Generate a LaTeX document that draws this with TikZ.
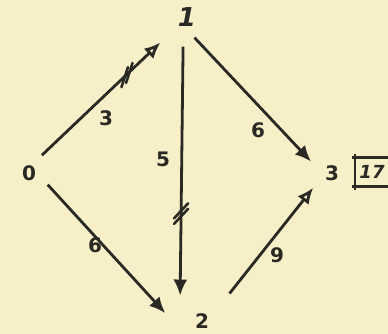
\documentclass[tikz,border=0pt]{standalone}
\usepackage{fontspec}
\setmainfont{DejaVu Sans}
\usetikzlibrary{arrows.meta,calc}
\definecolor{Paper}{HTML}{F7EFC8}
\definecolor{Pencil}{HTML}{2A2924}
\tikzset{
  eventnode/.style={circle,minimum size=44pt,inner sep=0pt,outer sep=0pt,font=\fontsize{20}{20}\selectfont\bfseries,text=Pencil},
  wideevent/.style={eventnode,minimum size=60pt},
  activity/.style={line width=2.8pt,draw=Pencil,-{Latex[length=16pt,width=14pt]}},
  critactivity/.style={line width=2.8pt,draw=Pencil,-{Latex[open,fill=Paper,length=16pt,width=14pt]}},
  durlabel/.style={font=\fontsize{20}{20}\selectfont\bfseries,text=Pencil,inner sep=1pt},
  crossmark/.style={line width=2.6pt,draw=Pencil,line cap=round},
  totalbox/.style={minimum width=34pt,minimum height=29pt,inner sep=0pt,font=\fontsize{18}{18}\selectfont\bfseries\itshape,text=Pencil},
  boxline/.style={line width=2.6pt,draw=Pencil}
}

\begin{document}
\begin{tikzpicture}[x=1pt,y=-1pt]
  \fill[Paper] (0,0) rectangle (388,334);
  \useasboundingbox (0,0) rectangle (388,334);

  % events
  \node[eventnode] (n0) at (29,173) {0};
  \node[eventnode,font=\fontsize{26}{26}\selectfont\bfseries\itshape] (n1) at (187,17) {1};
  \node[wideevent] (n2) at (202,321) {2};
  \node[eventnode] (n3) at (332,173) {3};
  \node[totalbox] (total) at (372,172) {17};
  \draw[boxline] ([xshift=-3pt]total.north west) -- (total.north east);
  \draw[boxline] ([xshift=-3pt]total.south west) -- (total.south east);
  \draw[boxline] ([yshift=3pt]total.north west) -- ([yshift=-3pt]total.south west);

  % activities
  \draw[critactivity,shorten >=15pt] (n0.54) -- coordinate[pos=0.66] (t01) (n1.-136);
  \draw[activity,shorten >=10pt] (n0.-32) -- (n2.179);
  \draw[activity,shorten <=8pt,shorten >=5pt] (n1.-100) -- coordinate[pos=0.667] (t12) (n2.137);
  \draw[activity,shorten >=2pt] (n1.-70) -- (n3.153);
  \draw[critactivity,shorten <=9pt,shorten >=2pt] (n2.43) -- (n3.-143);

  % critical path marks
  \draw[crossmark] ($(t01)+(-5.8,13.1)$) -- ++(6.5,-20);
  \draw[crossmark] ($(t01)+(-1.2,8.9)$) -- ++(6.5,-20);
  \draw[crossmark] ($(t12)+(-7,5)$) -- ++(14,-15);
  \draw[crossmark] ($(t12)+(-7,10.5)$) -- ++(14,-15);

  % durations
  \node[durlabel] (d01) at (106,118) {3};
  \node[durlabel] (d12) at (163,159) {5};
  \node[durlabel] (d13) at (258,130) {6};
  \node[durlabel] (d02) at (95,245) {6};
  \node[durlabel] (d23) at (277,255) {9};
\end{tikzpicture}
\end{document}
